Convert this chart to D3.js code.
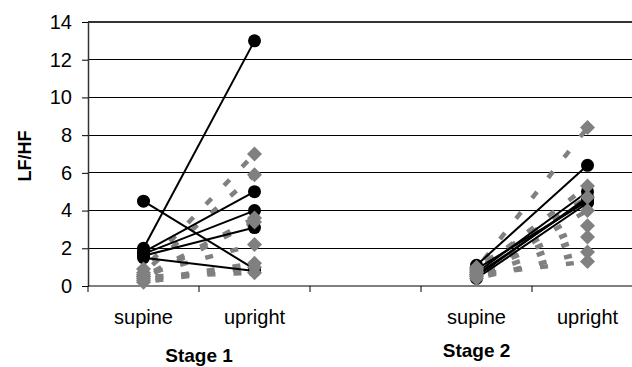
<!DOCTYPE html>
<html>
<head>
<meta charset="utf-8">
<script src="https://cdn.jsdelivr.net/npm/d3@7"></script>
<style>
  body { margin: 0; background: #fff; }
  text { font-family: Arial, "Liberation Sans", sans-serif; }
</style>
</head>
<body>
<svg class="svgChart"></svg>
<script>
// categories along the x axis (third slot is the gap between stages)
var categories = ["supine", "upright", "", "supine", "upright"];
var stageLabels = ["Stage 1", "Stage 2"];
var yTicks = [0, 2, 4, 6, 8, 10, 12, 14];

// black subjects (solid lines, circles)
var blackStage1Supine  = [4.5, 2.0, 1.8, 1.7, 1.6, 1.5];
var blackStage1Upright = [0.9, 13.0, 5.0, 4.0, 3.1, 0.8];
var blackStage2Supine  = [0.9, 1.1, 0.7, 0.5, 0.4, 0.6];
var blackStage2Upright = [4.5, 6.4, 5.0, 4.7, 4.4, 4.6];

// gray subjects (dashed lines, diamonds)
var grayStage1Supine  = [0.9, 0.7, 0.5, 0.4, 0.6, 0.3, 0.5, 0.2];
var grayStage1Upright = [7.0, 5.9, 3.6, 3.4, 2.2, 1.2, 0.7, 1.0];
var grayStage2Supine  = [0.9, 0.8, 0.6, 1.0, 0.7, 0.5, 0.4, 0.6];
var grayStage2Upright = [8.4, 5.3, 4.0, 4.7, 3.2, 2.6, 1.8, 1.3];

var W = 632, H = 367;
var margin = {top: 22, left: 88, bottom: 81};
var plotRight = 643;

var svg = d3.select('.svgChart')
    .attr('width', W)
    .attr('height', H);

var xScale = d3.scaleBand()
    .domain(d3.range(categories.length))
    .range([margin.left, plotRight])
    .padding(0);

var yScale = d3.scaleLinear()
    .domain([0, 14])
    .range([H - margin.bottom, margin.top]);

var cx = function(i){ return xScale(i) + xScale.bandwidth() / 2; };

// gridlines
svg.append('g')
  .selectAll('line')
  .data(yTicks.filter(function(d){ return d > 0; }))
  .enter()
  .append('line')
    .attr('x1', margin.left)
    .attr('x2', W)
    .attr('y1', function(d){ return yScale(d); })
    .attr('y2', function(d){ return yScale(d); })
    .attr('stroke', function(d){ return d === 14 ? '#333' : '#000'; })
    .attr('stroke-width', function(d){ return d === 14 ? 1.6 : 1; })
    .attr('shape-rendering', 'crispEdges');

// y axis
var yAxis = d3.axisLeft(yScale)
    .tickValues(yTicks)
    .tickSize(6)
    .tickPadding(10)
    .tickSizeOuter(0);
var gy = svg.append('g')
    .attr('transform', 'translate(' + margin.left + ',0)')
    .call(yAxis);
gy.select('.domain').attr('stroke', '#333').attr('stroke-width', 1.5);
gy.selectAll('.tick line').attr('stroke', '#000');
gy.selectAll('text')
    .attr('font-size', 20)
    .attr('fill', '#000')
    .attr('font-family', 'Arial, "Liberation Sans", sans-serif');

// x axis line and ticks at category boundaries
var xBase = yScale(0);
svg.append('line')
    .attr('x1', margin.left)
    .attr('x2', W)
    .attr('y1', xBase)
    .attr('y2', xBase)
    .attr('stroke', '#000')
    .attr('stroke-width', 1.2);
svg.append('g')
  .selectAll('line')
  .data(d3.range(categories.length + 1))
  .enter()
  .append('line')
    .attr('x1', function(i){ return margin.left + i * xScale.step(); })
    .attr('x2', function(i){ return margin.left + i * xScale.step(); })
    .attr('y1', xBase)
    .attr('y2', xBase + 6)
    .attr('stroke', '#000');

// category labels
svg.append('g')
  .selectAll('text')
  .data(categories)
  .enter()
  .append('text')
    .attr('x', function(d, i){ return cx(i); })
    .attr('y', 324)
    .attr('text-anchor', 'middle')
    .attr('font-size', 20)
    .text(function(d){ return d; });

// stage labels
svg.append('text')
    .attr('x', margin.left + xScale.step())
    .attr('y', 362)
    .attr('text-anchor', 'middle')
    .attr('font-size', 19)
    .attr('font-weight', 'bold')
    .text(stageLabels[0]);
svg.append('text')
    .attr('x', cx(3))
    .attr('y', 357)
    .attr('text-anchor', 'middle')
    .attr('font-size', 19)
    .attr('font-weight', 'bold')
    .text(stageLabels[1]);

// y label
svg.append('text')
    .attr('transform', 'translate(31,' + 156 + ') rotate(-90)')
    .attr('text-anchor', 'middle')
    .attr('font-size', 18)
    .attr('font-weight', 'bold')
    .text('LF/HF');

// build segments supine -> upright for each stage
function segments(s1a, s1b, s2a, s2b){
  var out = [];
  s1a.forEach(function(v, i){ out.push({x0: 0, y0: v, x1: 1, y1: s1b[i]}); });
  s2a.forEach(function(v, i){ out.push({x0: 3, y0: v, x1: 4, y1: s2b[i]}); });
  return out;
}
var blackSegs = segments(blackStage1Supine, blackStage1Upright, blackStage2Supine, blackStage2Upright);
var graySegs = segments(grayStage1Supine, grayStage1Upright, grayStage2Supine, grayStage2Upright);

function points(segs){
  var pts = [];
  segs.forEach(function(s){
    pts.push({x: s.x0, y: s.y0});
    pts.push({x: s.x1, y: s.y1});
  });
  return pts;
}

// gray dashed lines
svg.append('g')
  .selectAll('line')
  .data(graySegs)
  .enter()
  .append('line')
    .attr('x1', function(d){ return cx(d.x0); })
    .attr('y1', function(d){ return yScale(d.y0); })
    .attr('x2', function(d){ return cx(d.x1); })
    .attr('y2', function(d){ return yScale(d.y1); })
    .attr('stroke', '#808080')
    .attr('stroke-width', 4.5)
    .attr('stroke-dasharray', '8,18')
    .attr('stroke-dashoffset', -12);

// black solid lines
svg.append('g')
  .selectAll('line')
  .data(blackSegs)
  .enter()
  .append('line')
    .attr('x1', function(d){ return cx(d.x0); })
    .attr('y1', function(d){ return yScale(d.y0); })
    .attr('x2', function(d){ return cx(d.x1); })
    .attr('y2', function(d){ return yScale(d.y1); })
    .attr('stroke', '#000')
    .attr('stroke-width', 2);

// black circles
svg.append('g')
  .selectAll('circle')
  .data(points(blackSegs))
  .enter()
  .append('circle')
    .attr('cx', function(d){ return cx(d.x); })
    .attr('cy', function(d){ return yScale(d.y); })
    .attr('r', 6.5)
    .attr('fill', '#000');

// gray diamonds
svg.append('g')
  .selectAll('path')
  .data(points(graySegs))
  .enter()
  .append('path')
    .attr('transform', function(d){ return 'translate(' + cx(d.x) + ',' + yScale(d.y) + ')'; })
    .attr('d', 'M0,-7.5L7.5,0L0,7.5L-7.5,0Z')
    .attr('fill', '#808080');
</script>
</body>
</html>
